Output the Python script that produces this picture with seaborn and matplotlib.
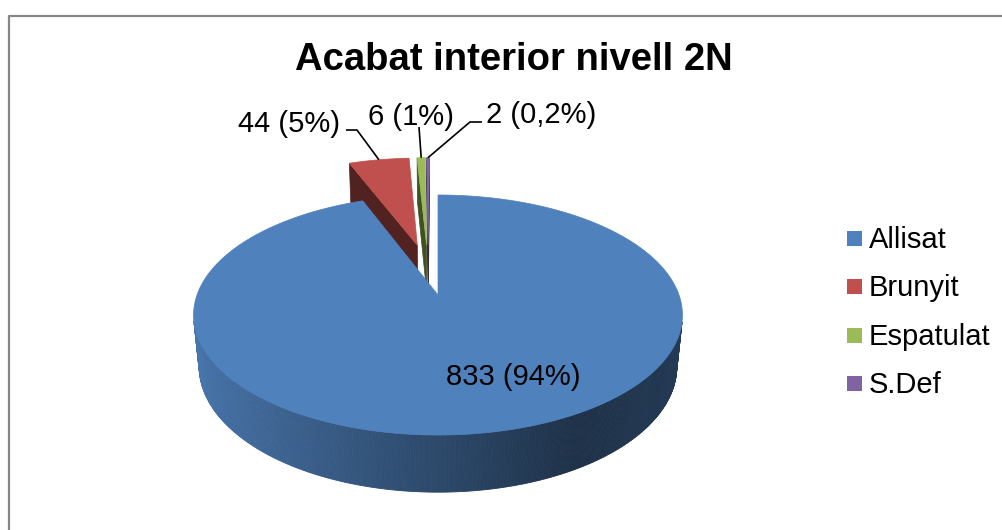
import numpy as np
import matplotlib
matplotlib.use('Agg')
import matplotlib.pyplot as plt
from matplotlib.patches import Polygon, Rectangle
from matplotlib.lines import Line2D
import seaborn as sns

# data
title = 'Acabat interior nivell 2N'
categories = ['Allisat', 'Brunyit', 'Espatulat', 'S.Def']
counts = [833, 44, 6, 2]
colors = ['#4F81BD', '#C0504D', '#9BBB59', '#8064A2']

sns.set_theme(style='white')
plt.rcParams['font.family'] = ['Liberation Sans', 'DejaVu Sans']
plt.rcParams['text.color'] = 'black'
palette = sns.color_palette(colors)

W, H = 1003, 530
fig = plt.figure(figsize=(W / 100, H / 100), dpi=100)
ax = fig.add_axes([0, 0, 1, 1])
ax.set_xlim(0, W)
ax.set_ylim(H, 0)
ax.axis('off')

# simple perspective camera, disk radius = 1
CAM_D, CAM_H = 4.59, 2.54
CAM_L = np.hypot(CAM_D, CAM_H)
FOCAL = 241 * CAM_L
THICK = 0.247
EXPLODE = 0.234
cam = np.array([0.0, -CAM_D, CAM_H])
PIE_X, PIE_Y = 438, 295


def project(u, v, z):
    depth = (CAM_D * v + CAM_L ** 2 - CAM_H * z) / CAM_L
    yc = (CAM_H * v + CAM_D * z) / CAM_L
    return FOCAL * u / depth, -FOCAL * yc / depth


def scr(u, v, z):
    x, y = project(u, v, z)
    return np.column_stack([PIE_X + np.atleast_1d(x), PIE_Y + np.atleast_1d(y)])


def shade(c, f):
    return tuple(np.clip(np.array(c) * f, 0, 1))


vals = np.array(counts, dtype=float)
fracs = vals / vals.sum()
start = 90 - 360 * np.concatenate([[0], np.cumsum(fracs)[:-1]])
end = start - 360 * fracs
mid = np.radians((start + end) / 2)
centers = EXPLODE * np.column_stack([np.cos(mid), np.sin(mid)])
centers = centers - centers[0]   # camera looks at the big slice

arc_mid = {}
for i in [1, 2, 3, 0]:
    col = palette[i]
    cu, cv = centers[i]
    th = np.radians(np.linspace(start[i], end[i], max(int(abs(start[i] - end[i]) * 2), 4)))
    au, av = cu + np.cos(th), cv + np.sin(th)

    # radial cut faces
    for ang, nang in [(start[i], start[i] + 90), (end[i], end[i] - 90)]:
        n = np.array([np.cos(np.radians(nang)), np.sin(np.radians(nang)), 0])
        if np.dot(cam - np.array([cu, cv, 0]), n) <= 1e-6:
            continue
        ou, ov = cu + np.cos(np.radians(ang)), cv + np.sin(np.radians(ang))
        pts = np.vstack([scr(cu, cv, 0), scr(ou, ov, 0), scr(ou, ov, -THICK), scr(cu, cv, -THICK)])
        fc = shade(col, 0.42)
        ax.add_patch(Polygon(pts, closed=True, facecolor=fc, edgecolor=fc, lw=0.5))

    # outer wall, shaded strips
    for j in range(len(th) - 1):
        tm = (th[j] + th[j + 1]) / 2
        r = np.array([np.cos(tm), np.sin(tm), 0])
        p = np.array([cu + r[0], cv + r[1], 0])
        if np.dot(cam - p, r) <= 0:
            continue
        f = np.interp(np.cos(tm), [-1, 0.5, 1], [0.92, 0.38, 0.46])
        fc = shade(col, f)
        pts = np.vstack([scr(au[j:j + 2], av[j:j + 2], 0),
                         scr(au[j:j + 2][::-1], av[j:j + 2][::-1], -THICK)])
        ax.add_patch(Polygon(pts, closed=True, facecolor=fc, edgecolor=fc, lw=0.6))

    # top face
    pts = np.vstack([scr(cu, cv, 0), scr(au, av, 0)])
    ax.add_patch(Polygon(pts, closed=True, facecolor=col, edgecolor=col, lw=0.5))

    mu, mv = cu + np.cos(mid[i]), cv + np.sin(mid[i])
    arc_mid[i] = scr(mu, mv, 0)[0]


def pct_text(p):
    p = 100 * p
    if p >= 0.5:
        return f'{p:.0f}%'
    return f'{p:.1f}%'.replace('.', ',')


labels = [f'{c} ({pct_text(f)})' for c, f in zip(counts, fracs)]

# label anchors (left, baseline) and leader knees
label_pos = [(446, 385), (238, 132), (368.5, 125), (486.5, 123)]
leader_start = [None, [(346, 130), (357, 130)], [(419, 127)], [(482, 122), (470, 122)]]

for i, lab in enumerate(labels):
    x, y = label_pos[i]
    ax.text(x, y, lab, fontsize=21, color='black', ha='left', va='baseline')
    if leader_start[i] is not None:
        pts = np.array(leader_start[i] + [tuple(arc_mid[i])])
        ax.plot(pts[:, 0], pts[:, 1], color='black', lw=1.2, solid_capstyle='butt')

ax.text(514, 70, title, fontsize=27.5, fontweight='bold', color='black',
        ha='center', va='baseline')

# legend
for k, (name, col) in enumerate(zip(categories, palette)):
    yc = 238.5 + 48.3 * k
    ax.add_patch(Rectangle((847, yc - 7.5), 15, 15, facecolor=col, edgecolor='none'))
    ax.text(869, yc + 9.5, name, fontsize=21, color='black', ha='left', va='baseline')

# chart frame
ax.add_line(Line2D([9.5, 9.5, W], [H, 15.5, 15.5], color='#878787', lw=1.6))

fig.savefig('out.png', dpi=100)
